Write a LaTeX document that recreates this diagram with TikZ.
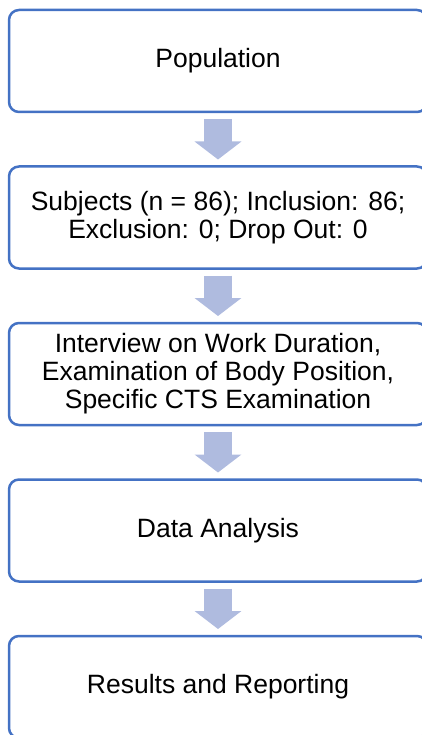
\documentclass[tikz,border=0pt]{standalone}
\usepackage{fontspec}
\setmainfont{Liberation Sans}
\usepackage{tikz}
\usetikzlibrary{positioning,arrows.meta}
\definecolor{boxblue}{RGB}{68,114,196}
\definecolor{arrowfill}{RGB}{175,187,223}

\begin{document}
\begin{tikzpicture}[
    x=1pt, y=1pt,
    node distance=54.5pt,
    every node/.style={font=\fontsize{26.5}{28}\selectfont},
    box/.style={draw=boxblue, line width=2.5pt, rounded corners=10pt, minimum width=418pt, minimum height=102pt, align=center, outer sep=0pt},
    flow/.style={draw=arrowfill, line width=28pt, -{Triangle[width=46pt, length=18pt, fill=arrowfill]}, shorten <=7pt, shorten >=7pt}
]
\useasboundingbox (0,0) rectangle (422,-735);
\clip (0,0) rectangle (422,-735);
\node[box] (pop) at (218,-61) {Population};
\node[box, below=of pop] (subj) {Subjects (n = 86); Inclusion: 86;\\Exclusion: 0; Drop Out: 0};
\node[box, below=of subj] (exam) {Interview on Work Duration,\\Examination of Body Position,\\Specific CTS Examination};
\node[box, below=of exam] (data) {Data Analysis};
\node[box, below=of data] (res) {Results and Reporting};

\draw[flow] (pop) -- (subj);
\draw[flow] (subj) -- (exam);
\draw[flow] (exam) -- (data);
\draw[flow] (data) -- (res);
\end{tikzpicture}
\end{document}
